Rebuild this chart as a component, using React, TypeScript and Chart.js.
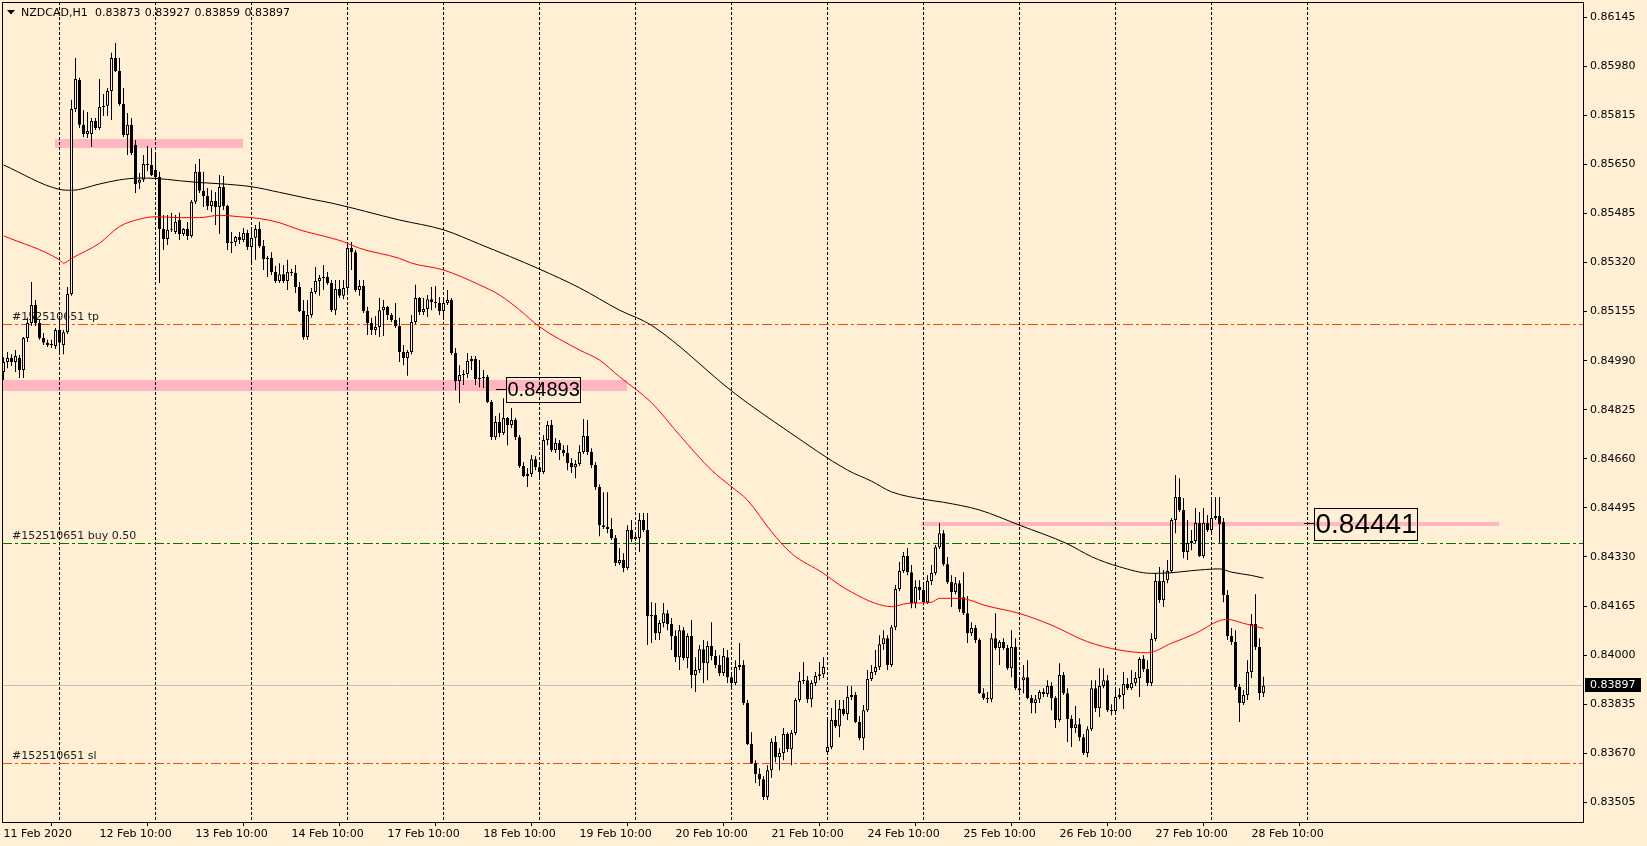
import React, { useEffect, useRef } from 'react';
import { Chart, registerables } from 'chart.js';
Chart.register(...registerables);

const symbolTitle = 'NZDCAD,H1';

const opens = [0.84952,0.84986,0.84999,0.84986,0.84999,0.84959,0.85066,0.85117,0.85177,0.85117,
0.85066,0.85050,0.85043,0.85039,0.85093,0.85043,0.85086,0.85214,0.85836,0.85934,
0.85783,0.85752,0.85752,0.85796,0.85772,0.85843,0.85847,0.85897,0.86008,0.85964,
0.85853,0.85749,0.85783,0.85715,0.85588,0.85598,0.85651,0.85648,0.85631,0.85608,
0.85433,0.85399,0.85430,0.85423,0.85463,0.85416,0.85433,0.85409,0.85524,0.85625,
0.85561,0.85544,0.85510,0.85527,0.85507,0.85574,0.85510,0.85386,0.85389,0.85406,
0.85396,0.85419,0.85372,0.85403,0.85433,0.85376,0.85332,0.85335,0.85288,0.85258,
0.85281,0.85258,0.85288,0.85285,0.85238,0.85157,0.85070,0.85144,0.85221,0.85258,
0.85268,0.85271,0.85251,0.85160,0.85231,0.85208,0.85234,0.85369,0.85355,0.85228,
0.85241,0.85157,0.85117,0.85093,0.85103,0.85160,0.85171,0.85144,0.85127,0.85107,
0.85019,0.84999,0.85019,0.85120,0.85201,0.85154,0.85164,0.85197,0.85187,0.85184,
0.85157,0.85184,0.85194,0.85016,0.84922,0.84942,0.84945,0.84989,0.84996,0.84928,
0.84932,0.84935,0.84851,0.84733,0.84784,0.84747,0.84797,0.84774,0.84791,0.84733,
0.84636,0.84602,0.84609,0.84659,0.84632,0.84616,0.84723,0.84774,0.84690,0.84713,
0.84690,0.84680,0.84646,0.84632,0.84643,0.84683,0.84737,0.84683,0.84639,0.84565,
0.84437,0.84431,0.84424,0.84394,0.84310,0.84320,0.84293,0.84421,0.84390,0.84394,
0.84454,0.84421,0.84131,0.84135,0.84074,0.84108,0.84141,0.84105,0.84064,0.83993,
0.84084,0.83990,0.84064,0.83933,0.83950,0.84020,0.83973,0.84031,0.83997,0.83967,
0.83940,0.83993,0.83926,0.83906,0.83960,0.83967,0.83839,0.83701,0.83637,0.83600,
0.83583,0.83523,0.83613,0.83708,0.83657,0.83671,0.83735,0.83684,0.83738,0.83849,
0.83913,0.83916,0.83852,0.83906,0.83930,0.83936,0.83674,0.83691,0.83782,0.83761,
0.83819,0.83802,0.83859,0.83866,0.83775,0.83721,0.83815,0.83920,0.83943,0.83960,
0.84037,0.84057,0.83967,0.84094,0.84222,0.84283,0.84333,0.84279,0.84175,0.84229,
0.84219,0.84178,0.84249,0.84276,0.84363,0.84410,0.84306,0.84246,0.84212,0.84242,
0.84195,0.84141,0.84074,0.84091,0.84051,0.83872,0.83856,0.83852,0.84057,0.84024,
0.84044,0.84024,0.83956,0.84027,0.83889,0.83916,0.83926,0.83856,0.83839,0.83852,
0.83876,0.83869,0.83896,0.83856,0.83782,0.83933,0.83872,0.83785,0.83755,0.83768,
0.83724,0.83671,0.83751,0.83889,0.83822,0.83896,0.83916,0.83815,0.83812,0.83859,
0.83866,0.83903,0.83889,0.83906,0.83923,0.83987,0.83953,0.83906,0.84054,0.84249,
0.84185,0.84252,0.84283,0.84454,0.84532,0.84488,0.84347,0.84377,0.84384,0.84444,
0.84333,0.84444,0.84421,0.84461,0.84468,0.84448,0.84202,0.84064,0.84044,0.83893,
0.83839,0.83866,0.83943,0.84105,0.84027,0.83873];

const highs = [0.85002,0.85019,0.85012,0.85026,0.85009,0.85070,0.85134,0.85255,0.85194,0.85127,
0.85083,0.85060,0.85060,0.85100,0.85140,0.85093,0.85238,0.85867,0.86008,0.85941,
0.85833,0.85826,0.85806,0.85806,0.85937,0.85887,0.85907,0.86025,0.86058,0.86008,
0.85907,0.85823,0.85806,0.85732,0.85621,0.85682,0.85712,0.85705,0.85682,0.85625,
0.85480,0.85480,0.85487,0.85480,0.85487,0.85436,0.85456,0.85530,0.85651,0.85668,
0.85625,0.85571,0.85564,0.85557,0.85614,0.85611,0.85514,0.85423,0.85409,0.85423,
0.85436,0.85430,0.85436,0.85446,0.85456,0.85396,0.85342,0.85355,0.85308,0.85318,
0.85312,0.85329,0.85298,0.85312,0.85255,0.85194,0.85194,0.85234,0.85305,0.85278,
0.85312,0.85288,0.85261,0.85261,0.85261,0.85261,0.85389,0.85389,0.85362,0.85261,
0.85261,0.85171,0.85134,0.85140,0.85201,0.85194,0.85174,0.85150,0.85184,0.85134,
0.85043,0.85026,0.85144,0.85245,0.85204,0.85201,0.85211,0.85238,0.85241,0.85204,
0.85204,0.85228,0.85201,0.85033,0.84975,0.84959,0.85016,0.85006,0.85006,0.84992,
0.84959,0.84942,0.84858,0.84804,0.84814,0.84864,0.84801,0.84831,0.84797,0.84740,
0.84649,0.84629,0.84673,0.84669,0.84649,0.84740,0.84787,0.84791,0.84730,0.84723,
0.84706,0.84706,0.84663,0.84656,0.84706,0.84794,0.84791,0.84696,0.84649,0.84575,
0.84548,0.84548,0.84461,0.84404,0.84360,0.84343,0.84437,0.84454,0.84414,0.84478,
0.84478,0.84478,0.84178,0.84175,0.84118,0.84175,0.84152,0.84125,0.84084,0.84101,
0.84094,0.84074,0.84118,0.83993,0.84034,0.84051,0.84047,0.84111,0.84017,0.84000,
0.84024,0.84017,0.83943,0.83983,0.84041,0.83983,0.83849,0.83741,0.83647,0.83620,
0.83593,0.83630,0.83721,0.83728,0.83687,0.83755,0.83741,0.83748,0.83856,0.83943,
0.83977,0.83930,0.83916,0.83943,0.83977,0.83993,0.83788,0.83822,0.83849,0.83849,
0.83849,0.83896,0.83896,0.83876,0.83795,0.83832,0.83950,0.83967,0.84017,0.84067,
0.84084,0.84067,0.84101,0.84236,0.84313,0.84347,0.84360,0.84303,0.84252,0.84252,
0.84242,0.84269,0.84303,0.84370,0.84444,0.84421,0.84330,0.84269,0.84263,0.84252,
0.84279,0.84199,0.84111,0.84101,0.84057,0.83889,0.83876,0.84074,0.84141,0.84051,
0.84057,0.84034,0.84084,0.84057,0.83923,0.83967,0.83983,0.83866,0.83866,0.83883,
0.83889,0.83916,0.83909,0.83862,0.83973,0.83943,0.83889,0.83798,0.83829,0.83788,
0.83735,0.83761,0.83916,0.83916,0.83956,0.83956,0.83933,0.83835,0.83883,0.83889,
0.83943,0.83923,0.83950,0.83943,0.83993,0.84000,0.83983,0.84074,0.84276,0.84296,
0.84286,0.84320,0.84461,0.84606,0.84595,0.84528,0.84454,0.84421,0.84495,0.84481,
0.84495,0.84471,0.84521,0.84532,0.84532,0.84461,0.84219,0.84091,0.84084,0.83903,
0.83883,0.83983,0.84138,0.84205,0.84057,0.83927];

const lows = [0.84925,0.84965,0.84972,0.84952,0.84932,0.84932,0.85053,0.85107,0.85107,0.85060,
0.85043,0.85036,0.85033,0.85029,0.85019,0.85012,0.85080,0.85208,0.85826,0.85772,
0.85742,0.85739,0.85709,0.85766,0.85766,0.85813,0.85813,0.85799,0.85961,0.85847,
0.85742,0.85682,0.85682,0.85554,0.85567,0.85591,0.85628,0.85611,0.85604,0.85251,
0.85362,0.85379,0.85423,0.85416,0.85396,0.85409,0.85396,0.85403,0.85517,0.85554,
0.85507,0.85497,0.85490,0.85446,0.85416,0.85497,0.85362,0.85352,0.85376,0.85382,
0.85389,0.85362,0.85318,0.85329,0.85369,0.85295,0.85271,0.85278,0.85251,0.85251,
0.85251,0.85228,0.85275,0.85218,0.85154,0.85060,0.85060,0.85134,0.85214,0.85208,
0.85228,0.85245,0.85154,0.85144,0.85201,0.85197,0.85221,0.85295,0.85221,0.85208,
0.85150,0.85076,0.85076,0.85076,0.85070,0.85073,0.85127,0.85120,0.85100,0.84986,
0.84975,0.84939,0.85012,0.85113,0.85144,0.85144,0.85137,0.85160,0.85167,0.85144,
0.85137,0.85177,0.85009,0.84891,0.84848,0.84908,0.84932,0.84959,0.84908,0.84901,
0.84898,0.84848,0.84723,0.84723,0.84733,0.84740,0.84706,0.84764,0.84723,0.84629,
0.84599,0.84565,0.84599,0.84622,0.84599,0.84609,0.84706,0.84683,0.84680,0.84656,
0.84669,0.84622,0.84612,0.84595,0.84636,0.84676,0.84673,0.84629,0.84555,0.84400,
0.84424,0.84410,0.84387,0.84300,0.84303,0.84279,0.84286,0.84380,0.84384,0.84347,
0.84414,0.84034,0.84041,0.84051,0.84051,0.84094,0.84084,0.84017,0.83977,0.83950,
0.83983,0.83956,0.83889,0.83876,0.83940,0.83906,0.83916,0.83983,0.83956,0.83930,
0.83930,0.83906,0.83883,0.83899,0.83950,0.83832,0.83698,0.83634,0.83570,0.83560,
0.83513,0.83513,0.83587,0.83640,0.83613,0.83647,0.83674,0.83630,0.83731,0.83842,
0.83903,0.83839,0.83825,0.83896,0.83916,0.83923,0.83671,0.83684,0.83755,0.83724,
0.83795,0.83782,0.83849,0.83772,0.83714,0.83681,0.83809,0.83913,0.83933,0.83950,
0.84017,0.83950,0.83960,0.84084,0.84215,0.84276,0.84269,0.84158,0.84158,0.84185,
0.84168,0.84172,0.84236,0.84269,0.84357,0.84300,0.84239,0.84162,0.84205,0.84145,
0.84135,0.84041,0.84064,0.84041,0.83869,0.83849,0.83839,0.83842,0.84017,0.83967,
0.84017,0.83950,0.83926,0.83883,0.83876,0.83872,0.83852,0.83805,0.83805,0.83839,
0.83859,0.83859,0.83815,0.83755,0.83775,0.83866,0.83708,0.83691,0.83738,0.83711,
0.83664,0.83657,0.83745,0.83809,0.83792,0.83889,0.83809,0.83798,0.83809,0.83852,
0.83819,0.83883,0.83883,0.83896,0.83859,0.83943,0.83896,0.83896,0.84047,0.84175,
0.84162,0.84242,0.84276,0.84410,0.84481,0.84326,0.84320,0.84353,0.84377,0.84330,
0.84326,0.84414,0.84410,0.84454,0.84377,0.84178,0.84051,0.84034,0.83883,0.83775,
0.83832,0.83849,0.83923,0.84017,0.83849,0.83859];

const closes = [0.84986,0.84999,0.84986,0.85006,0.84959,0.85066,0.85117,0.85177,0.85117,0.85066,
0.85050,0.85043,0.85046,0.85093,0.85050,0.85086,0.85214,0.85836,0.85937,0.85783,
0.85752,0.85762,0.85796,0.85772,0.85843,0.85847,0.85897,0.86008,0.85964,0.85853,
0.85749,0.85783,0.85688,0.85584,0.85598,0.85651,0.85648,0.85614,0.85608,0.85433,
0.85399,0.85430,0.85433,0.85456,0.85416,0.85433,0.85409,0.85524,0.85625,0.85561,
0.85544,0.85510,0.85527,0.85507,0.85574,0.85510,0.85386,0.85389,0.85406,0.85396,
0.85419,0.85372,0.85403,0.85433,0.85376,0.85332,0.85335,0.85288,0.85258,0.85281,
0.85258,0.85288,0.85285,0.85238,0.85157,0.85070,0.85144,0.85221,0.85258,0.85268,
0.85271,0.85251,0.85160,0.85231,0.85208,0.85234,0.85369,0.85355,0.85228,0.85241,
0.85157,0.85117,0.85093,0.85103,0.85160,0.85171,0.85144,0.85127,0.85107,0.85019,
0.84999,0.85019,0.85120,0.85201,0.85154,0.85164,0.85197,0.85187,0.85184,0.85157,
0.85184,0.85194,0.85016,0.84922,0.84942,0.84945,0.84989,0.84996,0.84928,0.84932,
0.84935,0.84851,0.84733,0.84784,0.84747,0.84797,0.84774,0.84791,0.84733,0.84636,
0.84602,0.84609,0.84659,0.84632,0.84616,0.84723,0.84774,0.84690,0.84713,0.84690,
0.84680,0.84646,0.84632,0.84643,0.84683,0.84737,0.84683,0.84639,0.84565,0.84437,
0.84431,0.84424,0.84394,0.84310,0.84320,0.84293,0.84421,0.84390,0.84397,0.84454,
0.84421,0.84131,0.84135,0.84074,0.84108,0.84141,0.84105,0.84064,0.83993,0.84084,
0.83990,0.84064,0.83933,0.83950,0.84020,0.83973,0.84031,0.83997,0.83967,0.83940,
0.83997,0.83926,0.83906,0.83960,0.83967,0.83839,0.83701,0.83637,0.83600,0.83583,
0.83523,0.83613,0.83708,0.83657,0.83671,0.83735,0.83684,0.83738,0.83849,0.83913,
0.83916,0.83852,0.83906,0.83930,0.83936,0.83960,0.83691,0.83782,0.83761,0.83819,
0.83802,0.83859,0.83866,0.83775,0.83721,0.83815,0.83920,0.83943,0.83960,0.84037,
0.84057,0.83967,0.84094,0.84222,0.84283,0.84333,0.84279,0.84175,0.84229,0.84219,
0.84178,0.84249,0.84276,0.84363,0.84410,0.84306,0.84246,0.84212,0.84242,0.84155,
0.84141,0.84074,0.84091,0.84051,0.83872,0.83856,0.83852,0.84057,0.84024,0.84044,
0.84024,0.83956,0.84027,0.83889,0.83883,0.83926,0.83856,0.83839,0.83852,0.83876,
0.83869,0.83896,0.83856,0.83782,0.83933,0.83872,0.83785,0.83755,0.83768,0.83724,
0.83671,0.83751,0.83889,0.83822,0.83896,0.83916,0.83815,0.83812,0.83859,0.83866,
0.83903,0.83889,0.83906,0.83923,0.83987,0.83953,0.83906,0.84054,0.84249,0.84185,
0.84249,0.84283,0.84454,0.84532,0.84488,0.84347,0.84377,0.84384,0.84444,0.84333,
0.84444,0.84421,0.84461,0.84468,0.84441,0.84202,0.84064,0.84044,0.83893,0.83839,
0.83866,0.83943,0.84105,0.84027,0.83872,0.83897];

// slow moving average (black), read at sample bars
const maSlowIdx = [0,14,17,24,29,34,38,44,49,54,62,69,77,82,99,110,119,134,144,154,162,183,196,211,217,222,230,235,244,254,266,272,279,287,292,297,304,307,312,315];
const maSlowVal = [0.85648,0.85566,0.85563,0.85584,0.85598,0.85604,0.85603,0.85595,0.85589,0.85585,0.85575,0.85556,0.85533,0.85520,0.85463,0.85430,0.85382,0.85298,0.85235,0.85160,0.85109,0.84878,0.84754,0.84622,0.84585,0.84549,0.84524,0.84514,0.84488,0.84437,0.84374,0.84331,0.84297,0.84275,0.84277,0.84284,0.84290,0.84279,0.84268,0.84259];
// fast moving average (red)
const maFastIdx = [0,14,15,17,24,29,34,38,44,49,54,59,64,69,74,82,85,89,99,102,110,119,124,129,134,144,149,154,162,169,177,182,186,192,197,205,209,215,218,222,226,232,234,239,246,254,262,271,279,286,292,298,304,306,310,315];
const maFastVal = [0.85410,0.85329,0.85318,0.85334,0.85385,0.85441,0.85466,0.85474,0.85471,0.85471,0.85479,0.85474,0.85468,0.85454,0.85430,0.85402,0.85390,0.85368,0.85334,0.85318,0.85295,0.85245,0.85211,0.85161,0.85104,0.85026,0.84992,0.84936,0.84849,0.84740,0.84622,0.84566,0.84521,0.84415,0.84342,0.84275,0.84236,0.84191,0.84174,0.84163,0.84174,0.84178,0.84191,0.84191,0.84165,0.84140,0.84101,0.84045,0.84017,0.84008,0.84040,0.84073,0.84116,0.84120,0.84107,0.84090];

const xTickIdx = [0,24,48,72,96,120,144,168,192,216,240,264,288,312];
const xTickLabels = ['11 Feb 2020','12 Feb 10:00','13 Feb 10:00','14 Feb 10:00','17 Feb 10:00','18 Feb 10:00','19 Feb 10:00','20 Feb 10:00','21 Feb 10:00','24 Feb 10:00','25 Feb 10:00','26 Feb 10:00','27 Feb 10:00','28 Feb 10:00'];
const gridIdx = [14,38,62,86,110,134,158,182,206,230,254,278,302,326];
const yTicks = [0.86145,0.85980,0.85815,0.85650,0.85485,0.85320,0.85155,0.84990,0.84825,0.84660,0.84495,0.84330,0.84165,0.84000,0.83835,0.83670,0.83505];

const orderLevels = [0.85112, 0.84376, 0.83637];
const orderLabels = ['#152510651 tp', '#152510651 buy 0.50', '#152510651 sl'];

const zoneStart = [12.9, -0.4, 229.4];
const zoneEnd = [59.9, 155.9, 373.9];
const zoneTop = [0.85736, 0.84925, 0.84449];
const zoneBottom = [0.85706, 0.84889, 0.84434];

const priceLabelIdx = [123.1, 325.1];
const priceLabelValues = [0.84893, 0.84441];

const BG = '#ffefd5';
const FONT = '"DejaVu Sans", Verdana, sans-serif';

const overlay = {
  id: 'mt4overlay',
  beforeDraw(chart: any) {
    const { ctx, width, height } = chart;
    ctx.save();
    ctx.fillStyle = BG;
    ctx.fillRect(0, 0, width, height);
    ctx.restore();
  },
  beforeDatasetsDraw(chart: any) {
    const { ctx, chartArea: a, scales } = chart;
    const x = scales.x, y = scales.y;
    ctx.save();
    ctx.beginPath();
    ctx.rect(a.left, a.top, a.right - a.left, a.bottom - a.top);
    ctx.clip();
    // zones
    ctx.fillStyle = '#ffb6c1';
    zoneStart.forEach((s, k) => {
      const x1 = x.getPixelForValue(s), x2 = x.getPixelForValue(zoneEnd[k]);
      const y1 = Math.round(y.getPixelForValue(zoneTop[k]));
      const y2 = Math.round(y.getPixelForValue(zoneBottom[k]));
      ctx.fillRect(Math.round(x1), y1, Math.round(x2 - x1), Math.max(1, y2 - y1));
    });
    // vertical dashed grid
    ctx.strokeStyle = '#000';
    ctx.lineWidth = 1;
    ctx.setLineDash([3, 2]);
    gridIdx.forEach((i) => {
      const px = Math.floor(x.getPixelForValue(i)) + 0.5;
      ctx.beginPath();
      ctx.moveTo(px, a.top);
      ctx.lineTo(px, a.bottom);
      ctx.stroke();
    });
    // bid line
    ctx.setLineDash([]);
    const last = closes[closes.length - 1];
    const cy = Math.floor(y.getPixelForValue(last)) + 0.5;
    ctx.strokeStyle = '#c0c0c0';
    ctx.beginPath();
    ctx.moveTo(a.left, cy);
    ctx.lineTo(a.right, cy);
    ctx.stroke();
    // order lines
    ctx.setLineDash([10, 3, 3, 3]);
    orderLevels.forEach((v, k) => {
      const py = Math.floor(y.getPixelForValue(v)) + 0.5;
      ctx.strokeStyle = k === 1 ? '#007800' : '#ff4500';
      ctx.beginPath();
      ctx.moveTo(a.left, py);
      ctx.lineTo(a.right, py);
      ctx.stroke();
      ctx.fillStyle = '#1e1e1e';
      ctx.font = `11px ${FONT}`;
      ctx.textBaseline = 'middle';
      ctx.textAlign = 'left';
      ctx.fillText(orderLabels[k], 12, py - 7);
    });
    ctx.restore();
  },
  afterDatasetsDraw(chart: any) {
    const { ctx, scales } = chart;
    const x = scales.x, y = scales.y;
    ctx.save();
    // price labels
    priceLabelIdx.forEach((idx, k) => {
      const v = priceLabelValues[k];
      const fs = k === 0 ? 20 : 28;
      const h = k === 0 ? 25 : 32;
      const x0 = Math.round(x.getPixelForValue(idx));
      const yc = y.getPixelForValue(v);
      ctx.font = `${fs}px "Liberation Sans", Arial, sans-serif`;
      const txt = v.toFixed(5);
      const w = ctx.measureText(txt).width;
      const bx = x0 + 10 + 0.5;
      const by = Math.round(yc - h / 2) + 0.5;
      ctx.strokeStyle = '#000';
      ctx.lineWidth = 1;
      ctx.setLineDash([]);
      ctx.beginPath();
      ctx.moveTo(x0, Math.floor(yc) + 0.5);
      ctx.lineTo(bx, Math.floor(yc) + 0.5);
      ctx.stroke();
      ctx.strokeRect(bx, by, Math.round(w + 2), h);
      ctx.fillStyle = '#000';
      ctx.textBaseline = 'middle';
      ctx.textAlign = 'left';
      ctx.fillText(txt, bx + 1, yc + 1);
    });
    ctx.restore();
  },
  afterDraw(chart: any) {
    const { ctx, chartArea: a, scales } = chart;
    const y = scales.y;
    ctx.save();
    // frame
    ctx.strokeStyle = '#000';
    ctx.lineWidth = 1;
    ctx.strokeRect(a.left + 0.5, a.top + 0.5, a.right - a.left, a.bottom - a.top);
    // title
    ctx.fillStyle = '#000';
    ctx.beginPath();
    ctx.moveTo(7, 10);
    ctx.lineTo(15, 10);
    ctx.lineTo(11, 14.5);
    ctx.closePath();
    ctx.fill();
    ctx.font = `11px ${FONT}`;
    ctx.textBaseline = 'middle';
    ctx.textAlign = 'left';
    const n = closes.length - 1;
    ctx.fillText(symbolTitle, 21, 13);
    [opens[n], highs[n], lows[n], closes[n]].forEach((v, k) => {
      ctx.fillText(v.toFixed(5), 95 + k * 49.8, 13);
    });
    // current price box
    const last = closes[n];
    const cy = Math.floor(y.getPixelForValue(last));
    ctx.fillStyle = '#000';
    ctx.fillRect(a.right + 2, cy - 7, 56, 14);
    ctx.fillStyle = '#fff';
    ctx.fillText(last.toFixed(5), a.right + 7, cy + 0.5);
    ctx.restore();
  },
};

export default function App() {
  const ref = useRef<HTMLCanvasElement>(null);
  useEffect(() => {
    document.body.style.margin = '0';
    const wickData = highs.map((h, i) => ({ x: i, y: [lows[i], h] }));
    const bodyData = opens.map((o, i) => ({ x: i, y: [o, closes[i]] }));
    const chart = new Chart(ref.current as HTMLCanvasElement, {
      type: 'bar',
      data: {
        datasets: [
          {
            type: 'line',
            data: maSlowIdx.map((v, k) => ({ x: v, y: maSlowVal[k] })),
            borderColor: '#000000',
            borderWidth: 1,
            pointRadius: 0,
            cubicInterpolationMode: 'monotone',
            order: 0,
          } as any,
          {
            type: 'line',
            data: maFastIdx.map((v, k) => ({ x: v, y: maFastVal[k] })),
            borderColor: '#ff0000',
            borderWidth: 1,
            pointRadius: 0,
            cubicInterpolationMode: 'monotone',
            order: 0,
          } as any,
          {
            type: 'bar',
            data: bodyData,
            barThickness: 3,
            grouped: false,
            minBarLength: 1,
            inflateAmount: 0,
            borderWidth: 1,
            borderSkipped: false,
            borderColor: '#000',
            backgroundColor: (c: any) => {
              const i = c.dataIndex;
              return closes[i] >= opens[i] ? BG : '#000';
            },
            order: 1,
          } as any,
          {
            type: 'bar',
            data: wickData,
            barThickness: 1,
            grouped: false,
            inflateAmount: 0,
            borderWidth: 0,
            backgroundColor: '#000',
            order: 2,
          } as any,
        ],
      },
      options: {
        responsive: false,
        animation: false,
        devicePixelRatio: 1,
        events: [],
        layout: { padding: { left: 2, top: 2, right: 0, bottom: 0 } },
        plugins: { legend: { display: false }, tooltip: { enabled: false } },
        scales: {
          x: {
            type: 'linear',
            min: -0.375,
            max: 394.875,
            offset: false,
            afterBuildTicks: (s: any) => {
              s.ticks = xTickIdx.map((v) => ({ value: v }));
            },
            afterFit: (s: any) => {
              s.height = 24;
              s.paddingLeft = 0;
              s.paddingRight = 0;
            },
            ticks: {
              callback: (v: any) => xTickLabels[xTickIdx.indexOf(Number(v))],
              align: 'start',
              autoSkip: false,
              maxRotation: 0,
              padding: 2,
              color: '#000',
              font: { family: FONT, size: 11 },
            },
            grid: { drawOnChartArea: false, drawTicks: true, tickLength: 4, color: '#000' },
            border: { display: false },
          },
          y: {
            type: 'linear',
            position: 'right',
            min: 0.83439,
            max: 0.86196,
            afterBuildTicks: (s: any) => {
              s.ticks = yTicks.map((v) => ({ value: v }));
            },
            afterFit: (s: any) => {
              s.width = 64;
              s.paddingTop = 0;
              s.paddingBottom = 0;
            },
            ticks: {
              callback: (v: any) => Number(v).toFixed(5),
              autoSkip: false,
              padding: 3,
              color: '#000',
              font: { family: FONT, size: 11 },
            },
            grid: { drawOnChartArea: false, drawTicks: true, tickLength: 4, color: '#000' },
            border: { display: false },
          },
        },
      } as any,
      plugins: [overlay as any],
    });
    return () => chart.destroy();
  }, []);
  return (
    <div style={{ position: 'fixed', left: 0, top: 0, width: 1647, height: 846, background: BG }}>
      <canvas ref={ref} width={1647} height={846} style={{ width: 1647, height: 846, display: 'block' }} />
    </div>
  );
}
